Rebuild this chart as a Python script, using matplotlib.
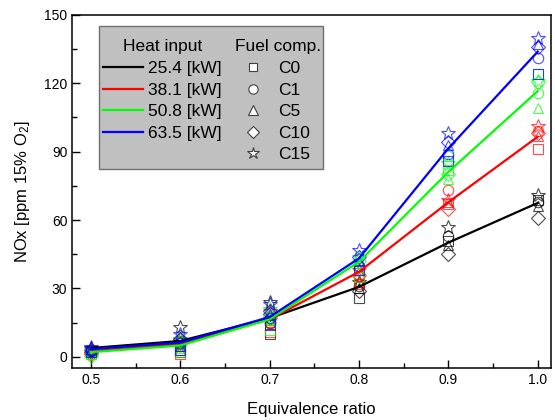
import matplotlib
matplotlib.use('Agg')
import matplotlib.pyplot as plt
from matplotlib.lines import Line2D
from matplotlib.patches import Rectangle
from matplotlib.ticker import MultipleLocator

plt.rcParams['font.family'] = ['Liberation Sans', 'DejaVu Sans']
plt.rcParams['mathtext.fontset'] = 'custom'
plt.rcParams['mathtext.rm'] = 'Liberation Sans'
plt.rcParams['mathtext.it'] = 'Liberation Sans:italic'

# Equivalence ratio
phi = [0.5, 0.6, 0.7, 0.8, 0.9, 1.0]

heat_labels = ['25.4 [kW]', '38.1 [kW]', '50.8 [kW]', '63.5 [kW]']
heat_colors = ['black', '#ff0000', '#00ff00', '#0000ff']
fuel_labels = ['C0', 'C1', 'C5', 'C10', 'C15']
fuel_markers = ['s', 'o', '^', 'D', '*']
marker_sizes = [7, 7.5, 7.5, 7, 10]

# measured NOx per fuel (rows C0, C1, C5, C10, C15)
nox_25 = [[2.5, 2.0, 10, 26, 51, 69],
          [3.0, 7.0, 15, 31, 53, 68],
          [3.0, 5.0, 16, 30, 49, 66],
          [2.0, 8.0, 19, 29, 45, 61],
          [4.0, 13.0, 24, 33, 57, 71]]
nox_38 = [[2.0, 1.5, 11, 32, 67, 91],
          [2.5, 5.0, 15, 35, 73, 99],
          [2.5, 3.0, 16, 33, 68, 97],
          [1.5, 6.0, 17, 36, 65, 98],
          [3.5, 8.0, 20, 38, 69, 101]]
nox_51 = [[1.5, 2.0, 12, 35, 82, 124],
          [2.0, 5.0, 16, 38, 88, 115.5],
          [2.0, 4.0, 17, 41, 78, 109],
          [0.5, 6.0, 18, 42, 80, 120.5],
          [3.0, 8.0, 21, 44, 85, 121]]
nox_64 = [[2.0, 3.0, 14, 38, 86, 124],
          [2.5, 6.0, 17, 40, 89, 131],
          [3.5, 5.0, 19, 42, 93, 137],
          [3.0, 8.0, 20, 44, 94, 136],
          [4.5, 10.0, 23, 47, 98, 140]]

# trend lines for each heat input
line_25 = [3.9, 7.0, 17.0, 30.7, 50.1, 67.5]
line_38 = [2.6, 5.6, 16.5, 37.3, 67.8, 96.5]
line_51 = [2.1, 5.0, 16.5, 41.7, 81.1, 116.5]
line_64 = [3.4, 6.3, 17.5, 43.2, 91.4, 133.8]

all_points = [nox_25, nox_38, nox_51, nox_64]
all_lines = [line_25, line_38, line_51, line_64]

fig = plt.figure(figsize=(5.55, 4.2), dpi=100)
ax = fig.add_axes([0.130, 0.123, 0.863, 0.842])

for pts, col in zip(all_points, heat_colors):
    for vals, mk, ms in zip(pts, fuel_markers, marker_sizes):
        ax.plot(phi, vals, linestyle='none', marker=mk, ms=ms,
                mfc='none', mec=col, mew=0.8, alpha=0.7, zorder=2)

for ln, col in zip(all_lines, heat_colors):
    ax.plot(phi, ln, color=col, lw=1.6, zorder=3)

ax.set_xlim(0.479, 1.015)
ax.set_ylim(-5, 150)
ax.xaxis.set_major_locator(MultipleLocator(0.1))
ax.xaxis.set_minor_locator(MultipleLocator(0.05))
ax.yaxis.set_major_locator(MultipleLocator(30))
ax.yaxis.set_minor_locator(MultipleLocator(15))
ax.tick_params(which='both', direction='in', labelsize=10, width=1)
ax.tick_params(which='major', length=6)
ax.tick_params(which='minor', length=3.5)
for sp in ax.spines.values():
    sp.set_linewidth(1.1)

ax.set_xlabel('Equivalence ratio', fontsize=12, labelpad=11)
ax.set_ylabel('NOx [ppm 15% O$_2$]', fontsize=12, labelpad=9)

# grey box behind both legends
ax.add_patch(Rectangle((0.056, 0.564), 0.468, 0.404, transform=ax.transAxes,
                       facecolor='#c0c0c0', edgecolor='#707070', lw=1.0, zorder=5))

heat_handles = [Line2D([], [], color=c, lw=1.6) for c in heat_colors]
leg1 = ax.legend(heat_handles, heat_labels, title='Heat input', loc='upper left',
                 bbox_to_anchor=(0.064, 0.93), frameon=False, fontsize=12.5,
                 title_fontsize=12.5, handlelength=2.3, handletextpad=0.3,
                 labelspacing=0.37, borderpad=0, borderaxespad=0)
leg1.set_zorder(6)
ax.add_artist(leg1)

fuel_handles = [Line2D([], [], linestyle='none', marker=m, mfc='white', mec='#404040',
                       mew=0.8, ms=s * 0.9)
                for m, s in zip(fuel_markers, marker_sizes)]
leg2 = ax.legend(fuel_handles, fuel_labels, title='Fuel comp.', loc='upper left',
                 bbox_to_anchor=(0.340, 0.93), frameon=False, fontsize=12.5,
                 title_fontsize=12.5, handlelength=0.86, handletextpad=1.0,
                 labelspacing=0.37, borderpad=0, borderaxespad=0)
leg2.set_zorder(6)

fig.savefig('out.png', dpi=100)
